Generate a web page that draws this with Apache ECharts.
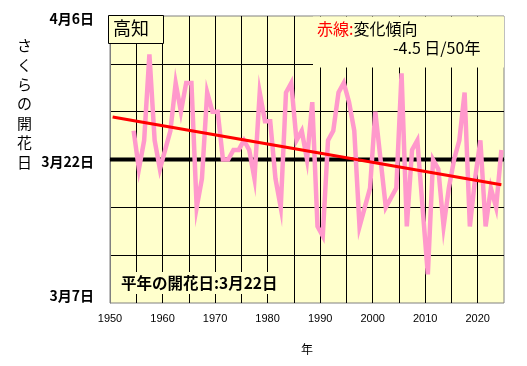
<!DOCTYPE html>
<html><head><meta charset="utf-8">
<script src="https://cdn.jsdelivr.net/npm/echarts@6/dist/echarts.min.js"></script>
<style>html,body{margin:0;padding:0;background:#fff}#c{width:527px;height:366px}</style>
</head><body><div id="c"></div>
<script>
// Years with observed flowering dates (Kochi)
const years = [1954,1955,1956,1957,1958,1959,1960,1961,1962,1963,1964,1965,1966,1967,1968,1969,
  1970,1971,1972,1973,1974,1975,1976,1977,1978,1979,1980,1981,1982,1983,1984,1985,1986,1987,1988,1989,
  1990,1991,1992,1993,1994,1995,1996,1997,1998,1999,2000,2001,2002,2003,2004,2005,2006,2007,2008,2009,
  2010,2011,2012,2013,2014,2015,2016,2017,2018,2019,2020,2021,2022,2023,2024];
// Flowering date as days relative to normal date (3/22); positive = later
const bloomOffsetDays = [3,-1,2,11,2,-1,1,3,8,5,8,8,-5,-2,7,5,
  5,0,0,1,1,2,1,-2,7,4,4,-2,-5,7,8,2,3,0,6,-7,
  -8,2,3,7,8,6,3,-7,-5,-3,5,0,-5,-4,-3,9,-7,1,2,-5,
  -12,0,-1,-7,-3,0,2,7,-7,-2,2,-7,-3,-5,1];
// Linear trend (red line) endpoints
const trendYears = [1950, 2024];
const trendOffsetDays = [4.45, -2.65];
// Normal flowering date line
const normalOffset = 0;
// Axis labels
const xLabelYears = [1950,1960,1970,1980,1990,2000,2010,2020];
const yTickValues = [-15, 0, 15];
const yTickLabels = ['3月7日', '3月22日', '4月6日'];
const yAxisTitle = 'さくらの開花日';

const F = '"Noto Sans CJK JP", "Noto Sans", sans-serif';
const chart = echarts.init(document.getElementById('c'));
const half = 0.5;
const titleChars = Array.from(yAxisTitle).map((ch, i) => ({
  type: 'text', z: 11, left: 17, top: 38 + i * 19.4,
  style: { text: ch, fontSize: 15, fontFamily: F, fill: '#000' }
}));
chart.setOption({
  animation: false,
  backgroundColor: '#ffffff',
  grid: { left: 110, right: 23, top: 16, bottom: 63, show: true,
          backgroundColor: '#FFFFCC', borderColor: '#808080', borderWidth: 1 },
  xAxis: {
    type: 'value', min: 1950, max: 2025, interval: 5,
    axisLine: { lineStyle: { color: '#808080', width: 1 } },
    axisTick: { show: false },
    splitLine: { show: true, showMinLine: false, showMaxLine: false, lineStyle: { color: '#000', width: 1 } },
    axisLabel: { margin: 10, color: '#000', fontSize: 11, fontFamily: 'Liberation Sans, Arial, sans-serif',
      formatter: v => xLabelYears.includes(v) ? String(v) : '' },
    name: '年', nameLocation: 'middle', nameGap: 40,
    nameTextStyle: { color: '#000', fontSize: 12, fontFamily: F }
  },
  yAxis: {
    type: 'value', min: -15, max: 15, interval: 5,
    axisLine: { show: true, lineStyle: { color: '#808080', width: 1 } },
    axisTick: { show: false },
    splitLine: { show: true, showMinLine: false, showMaxLine: false, lineStyle: { color: '#000', width: 1 } },
    axisLabel: { margin: 16, color: '#000',
      formatter: v => {
        const i = yTickValues.indexOf(v);
        if (i < 0) return '';
        const key = i === 0 ? 'b' : (i === 1 ? 'm' : 't');
        return '{' + key + '|' + yTickLabels[i] + '}';
      },
      rich: {
        t: { fontSize: 14, fontWeight: 'bold', fontFamily: F, color: '#000', padding: [6, 0, 0, 0] },
        m: { fontSize: 14, fontWeight: 'bold', fontFamily: F, color: '#000', padding: [4, 0, 0, 0] },
        b: { fontSize: 14, fontWeight: 'bold', fontFamily: F, color: '#000', padding: [0, 0, 14, 0] }
      }
    }
  },
  series: [
    { type: 'line', z: 1, symbol: 'none', silent: true,
      data: [[1950, normalOffset], [2025, normalOffset]],
      lineStyle: { color: '#000', width: 4 } },
    { type: 'line', z: 3, symbol: 'none',
      data: years.map((y, i) => [y + half, bloomOffsetDays[i]]),
      lineStyle: { color: '#FF99CC', width: 4.5, join: 'miter' } },
    { type: 'line', z: 4, symbol: 'none',
      data: trendYears.map((y, i) => [y + half, trendOffsetDays[i]]),
      lineStyle: { color: '#FF0000', width: 3 } }
  ],
  graphic: [
    { type: 'rect', z: 10, shape: { x: 108.5, y: 15.5, width: 55, height: 28 },
      style: { fill: '#FFFFCC', stroke: '#000', lineWidth: 1 } },
    { type: 'text', z: 11, left: 113, top: 19,
      style: { text: '高知', fontSize: 18, fontFamily: F, fill: '#000' } },
    { type: 'rect', z: 10, shape: { x: 313, y: 16.5, width: 191, height: 51 },
      style: { fill: '#FFFFCC', stroke: null } },
    { type: 'text', z: 11, left: 317, top: 21,
      style: { text: '{r|赤線:}{k|変化傾向}', fontFamily: F,
        rich: { r: { fontSize: 16, fill: '#FF0000', fontFamily: F }, k: { fontSize: 16, fill: '#000', fontFamily: F } } } },
    { type: 'text', z: 11, left: 393, top: 40,
      style: { text: '-4.5 日/50年', fontSize: 16, fontFamily: F, fill: '#000' } },
    { type: 'rect', z: 10, shape: { x: 113, y: 272, width: 172, height: 22 },
      style: { fill: '#FFFFCC', stroke: null } },
    { type: 'text', z: 11, left: 121, top: 275,
      style: { text: '平年の開花日:3月22日', fontSize: 15.5, fontWeight: 'bold', fontFamily: F, fill: '#000' } }
  ].concat(titleChars)
});
</script>
</body></html>
